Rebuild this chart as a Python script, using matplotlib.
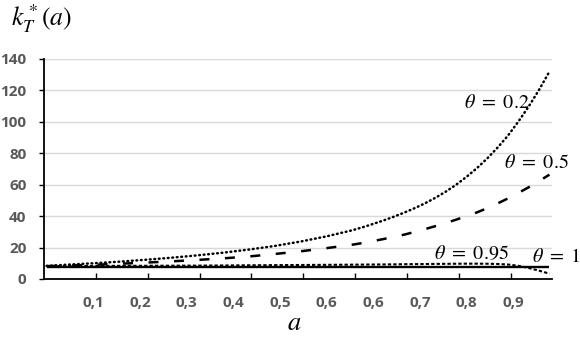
import matplotlib
matplotlib.use("Agg")
import matplotlib.pyplot as plt

plt.rcParams['mathtext.fontset'] = 'stix'

# ---- data ----
a_vals = [0.01, 0.05, 0.10, 0.15, 0.20, 0.25, 0.30, 0.35, 0.40, 0.45, 0.50, 0.55,
          0.60, 0.62, 0.64, 0.66, 0.68, 0.70, 0.72, 0.74, 0.76, 0.78, 0.80,
          0.82, 0.84, 0.86, 0.88, 0.90, 0.92, 0.94, 0.96, 0.98]
k_theta02 = [8.3, 9.1, 10.0, 11.0, 12.2, 13.5, 15.0, 16.7, 18.7, 21.0, 23.8, 27.1,
             31.0, 32.9, 35.0, 37.2, 39.6, 42.2, 45.0, 48.1, 51.6, 55.5, 59.9,
             64.9, 70.4, 76.6, 83.5, 91.1, 100.0, 109.6, 120.2, 131.8]
k_theta05 = [8.2, 8.5, 9.0, 9.7, 10.4, 11.2, 12.1, 13.1, 14.3, 15.9, 17.6, 19.6,
             21.8, 22.9, 24.1, 25.4, 26.8, 28.2, 29.9, 31.7, 33.6, 35.6, 37.7,
             40.0, 42.3, 45.0, 48.0, 51.2, 54.7, 58.3, 62.2, 66.3]
k_theta095 = [8.2, 8.25, 8.3, 8.35, 8.4, 8.45, 8.5, 8.6, 8.7, 8.8, 8.9, 9.0,
              9.1, 9.15, 9.2, 9.25, 9.3, 9.4, 9.45, 9.5, 9.6, 9.65, 9.7,
              9.75, 9.75, 9.7, 9.55, 9.2, 8.4, 7.0, 5.3, 3.4]
k_theta1 = [7.8] * len(a_vals)

n_categories = 98            # a = 0.01 ... 0.98
label_a = [0.10, 0.19, 0.28, 0.37, 0.46, 0.55, 0.64, 0.73, 0.82, 0.91]
label_text = ["0,1", "0,2", "0,3", "0,4", "0,5", "0,6", "0,6", "0,7", "0,8", "0,9"]
y_ticks = [0, 20, 40, 60, 80, 100, 120, 140]

def xpos(a):
    return a * 100 - 0.5

fig = plt.figure(figsize=(5.8, 3.4), dpi=100)
ax = fig.add_axes([44 / 580, 1 - 279 / 340, 508 / 580, (279 - 58.7) / 340])

xs = [xpos(a) for a in a_vals]

ax.plot(xs, k_theta1, color='black', lw=1.7, solid_capstyle='butt', zorder=3)
ax.plot(xs, k_theta095, color='black', lw=1.5, linestyle=(0, (1.6, 1.0)), dash_capstyle='butt', zorder=4)
ax.plot(xs, k_theta05, color='black', lw=1.8, linestyle=(0, (4.0, 6.2)), dash_capstyle='butt', zorder=4)
ax.plot(xs, k_theta02, color='black', lw=1.8, linestyle=(0, (0.3, 1.5)), dash_capstyle='round', zorder=4)

ax.set_xlim(0, n_categories)
ax.set_ylim(0, 140)

# grid
ax.set_yticks(y_ticks)
ax.yaxis.grid(True, color='#d9d9d9', lw=1.0)
ax.set_axisbelow(True)

# spines
for s in ['top', 'right']:
    ax.spines[s].set_visible(False)
ax.spines['left'].set_color('black')
ax.spines['bottom'].set_color('black')
ax.spines['left'].set_linewidth(1.3)
ax.spines['bottom'].set_linewidth(1.3)

tick_font = dict(family='Open Sans', weight='bold', size=11, color='#595959')
ax.set_yticklabels([str(v) for v in y_ticks], fontdict=tick_font)
ax.tick_params(axis='y', direction='out', length=3.6, width=1.0, color='black', pad=9)

# x: tick marks every 10 categories (inward), labels every 9 categories
ax.set_xticks([10 * i for i in range(1, 10)])
ax.set_xticklabels([])
ax.tick_params(axis='x', which='major', direction='in', length=4, width=1.0, color='black')
ax.set_xticks([xpos(a) for a in label_a], minor=True)
ax.set_xticklabels(label_text, minor=True, fontdict=tick_font)
ax.tick_params(axis='x', which='minor', length=0, pad=12)

# titles
fig.text(11 / 580, 1 - 19 / 340, r'$k_T^*(a)$', fontsize=18.5, ha='left', va='center')
fig.text(294 / 580, 1 - 323 / 340, r'$a$', fontsize=19, ha='center', va='center')

# curve labels
lbl = dict(fontsize=14.5, ha='center', va='center', color='black')
fig.text(497 / 580, 1 - 102 / 340, r'$\theta\ =\ 0.2$', **lbl)
fig.text(536 / 580, 1 - 162 / 340, r'$\theta\ =\ 0.5$', **lbl)
fig.text(471 / 580, 1 - 254 / 340, r'$\theta\ =\ 0.95$', **lbl)
fig.text(556 / 580, 1 - 257 / 340, r'$\theta\ =\ 1$', **lbl)

fig.savefig('out.png', dpi=100)
